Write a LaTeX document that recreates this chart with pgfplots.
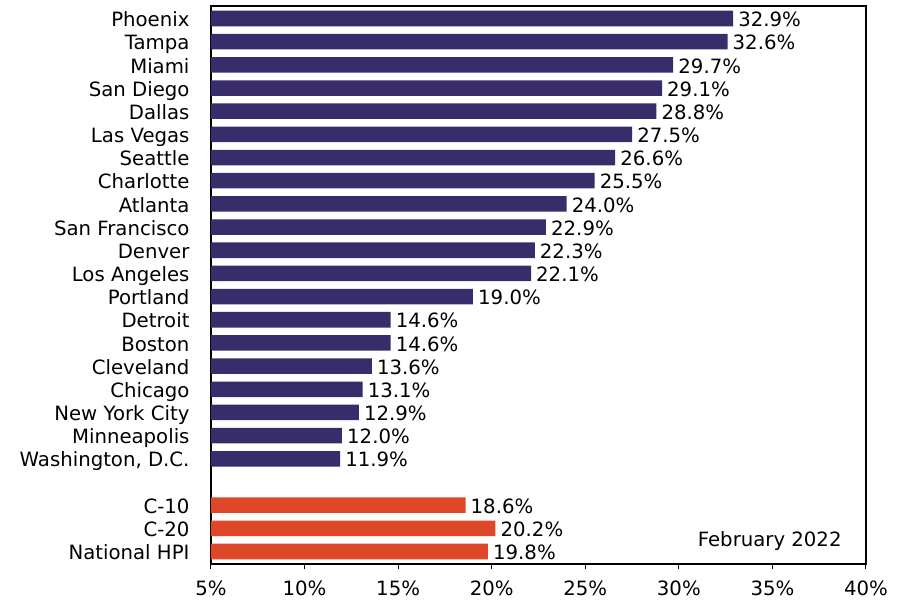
\documentclass[border=0pt]{standalone}
\usepackage{fontspec}
\setmainfont{DejaVu Sans}
\usepackage{pgfplots}
\pgfplotsset{compat=1.18}
\definecolor{barpurple}{RGB}{57,44,106}
\definecolor{barorange}{RGB}{222,72,40}
\newcommand{\cf}{\fontsize{19.7}{23}\selectfont}
\begin{document}
\begin{tikzpicture}
\path[use as bounding box] (-211pt,-36pt) rectangle (689pt,564pt);
\begin{axis}[
  at={(0pt,0pt)}, anchor=south west,
  scale only axis, width=655pt, height=558pt,
  xmin=5, xmax=40, ymin=-0.54, ymax=23.54,
  xtick={5,10,15,20,25,30,35,40},
  xticklabel={\pgfmathprintnumber{\tick}\%},
  /pgf/number format/assume math mode=true,
  ytick={0,1,2,4,5,6,7,8,9,10,11,12,13,14,15,16,17,18,19,20,21,22,23},
  yticklabels={National HPI,C-20,C-10,{Washington, D.C.},Minneapolis,New York City,Chicago,Cleveland,Boston,Detroit,Portland,Los Angeles,Denver,San Francisco,Atlanta,Charlotte,Seattle,Las Vegas,Dallas,San Diego,Miami,Tampa,Phoenix},
  tick label style={font=\cf, text height=14.4pt, text depth=0pt},
  y tick style={draw=none},
  x tick style={line width=1pt, black},
  tick align=outside, xtick pos=bottom, ytick pos=left,
  major tick length=5pt,
  axis line style={line width=1.2pt},
  xbar, bar width=0.67, bar shift=0pt,
  nodes near coords={\pgfmathprintnumber[fixed,fixed zerofill,precision=1]{\pgfplotspointmeta}\%},
  nodes near coords style={font=\cf, inner sep=0pt, xshift=5pt, yshift=-1pt, black, text height=14.4pt, text depth=0pt},
  point meta=x,
  yticklabel style={xshift=-13pt, yshift=-1pt},
  xticklabel style={yshift=-9pt},
]
\addplot[fill=barpurple, draw=none] coordinates {(11.9,4) (12.0,5) (12.9,6) (13.1,7) (13.6,8) (14.6,9) (14.6,10) (19.0,11) (22.1,12) (22.3,13) (22.9,14) (24.0,15) (25.5,16) (26.6,17) (27.5,18) (28.8,19) (29.1,20) (29.7,21) (32.6,22) (32.9,23)};
\addplot[fill=barorange, draw=none] coordinates {(19.8,0) (20.2,1) (18.6,2)};
\node[anchor=base east, font=\cf, inner sep=0pt] at (rel axis cs:0.963,0.0305) {February 2022};
\end{axis}
\end{tikzpicture}
\end{document}
